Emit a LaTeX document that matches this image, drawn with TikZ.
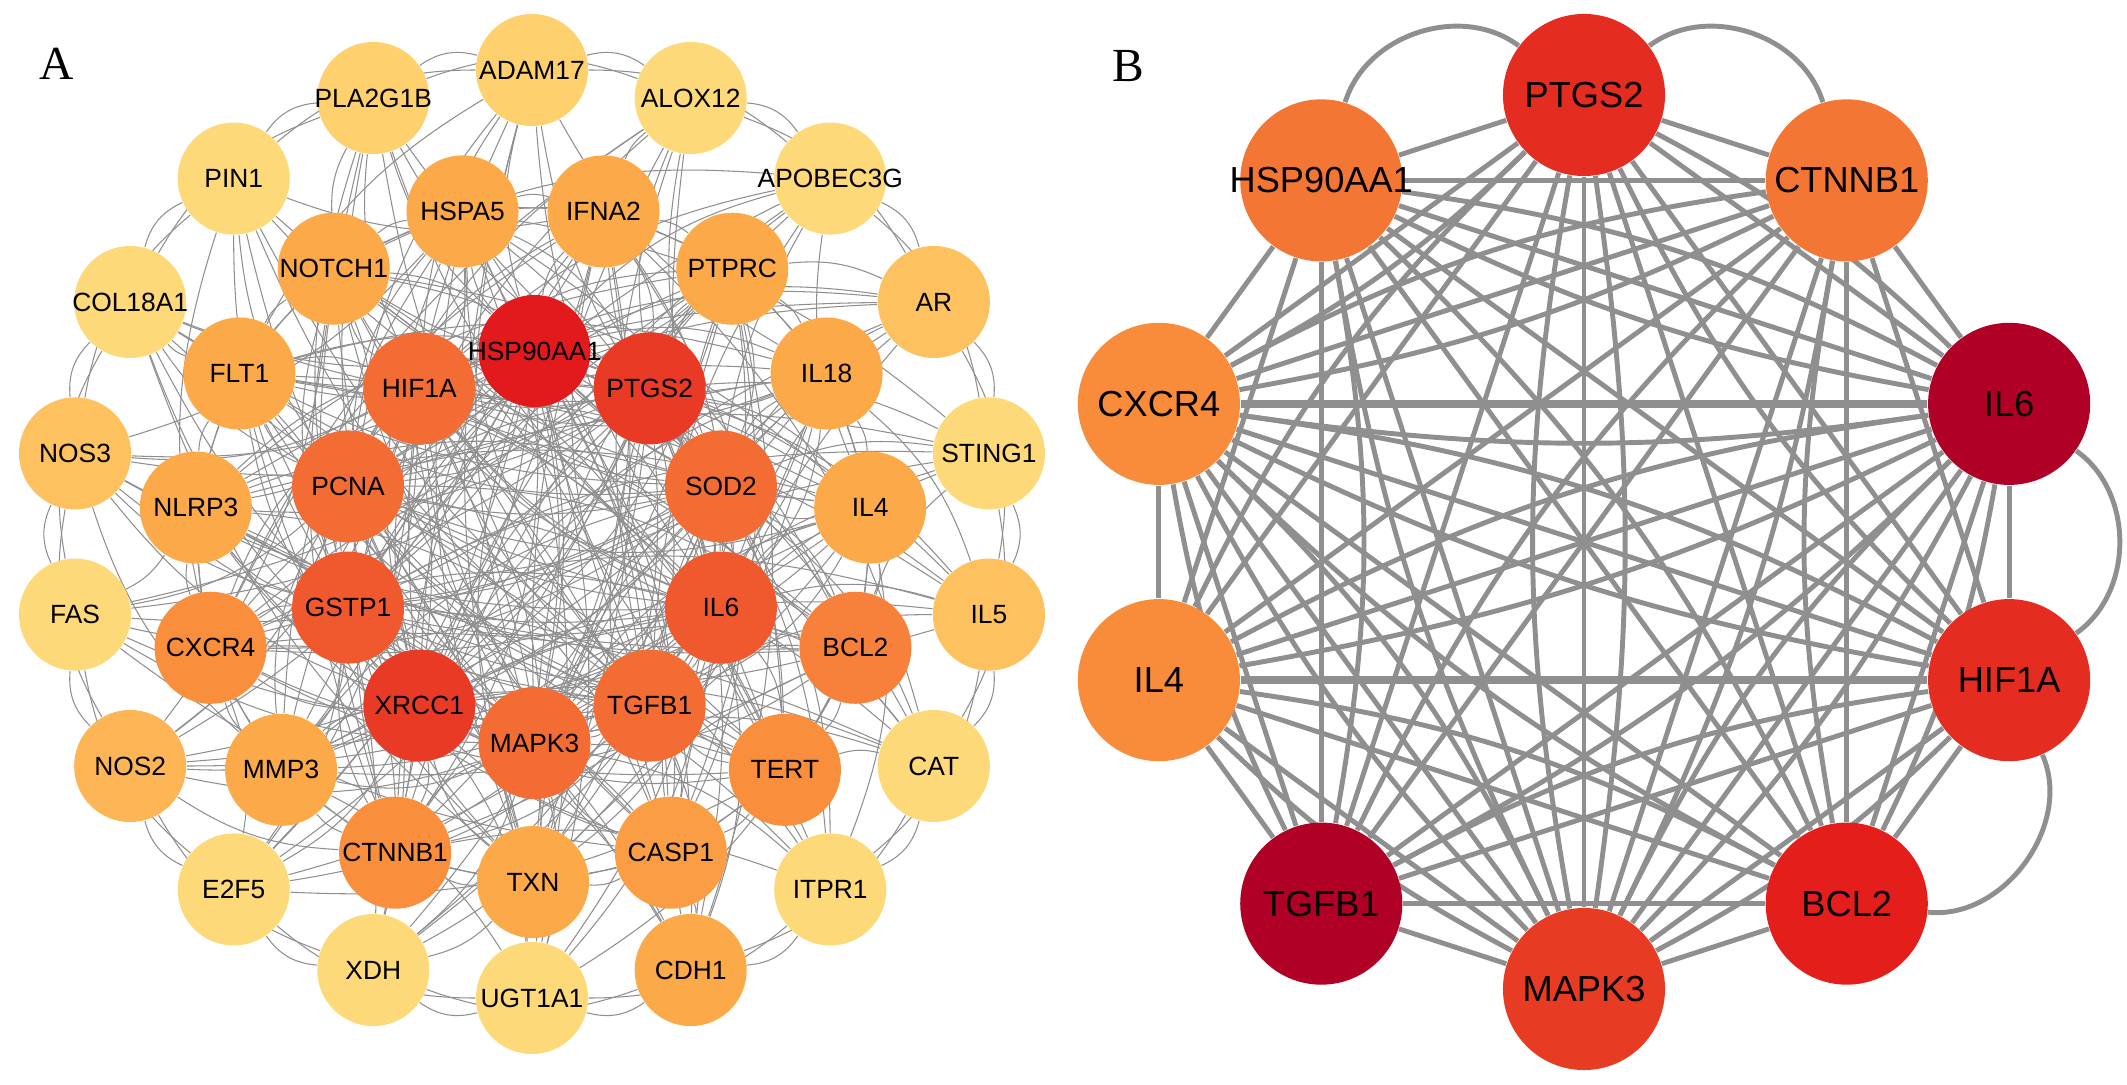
\documentclass[tikz,border=0pt]{standalone}
\usepackage{fontspec}
\setmainfont{Liberation Serif}
\setsansfont{Liberation Sans}
\usetikzlibrary{backgrounds}
\definecolor{edgegray}{HTML}{8F8F8F}
\definecolor{lvA}{HTML}{E31A1C}
\definecolor{lvB}{HTML}{E93A26}
\definecolor{lvC}{HTML}{F0592D}
\definecolor{lvD}{HTML}{F36C33}
\definecolor{lvE}{HTML}{F7803A}
\definecolor{lvF}{HTML}{F98E3D}
\definecolor{lvG}{HTML}{FA9D44}
\definecolor{lvH}{HTML}{FCA94A}
\definecolor{lvI}{HTML}{FDB555}
\definecolor{lvJ}{HTML}{FDC25F}
\definecolor{lvK}{HTML}{FED06E}
\definecolor{lvL}{HTML}{FED979}
\definecolor{crimB}{HTML}{B10026}
\definecolor{redB}{HTML}{E42C20}
\definecolor{redC}{HTML}{E31E1B}
\definecolor{redD}{HTML}{E83B24}
\definecolor{orgB}{HTML}{F47635}
\definecolor{orgC}{HTML}{F88C3B}
\begin{document}
\begin{tikzpicture}[x=0.01cm,y=0.01cm,
  geneA/.style={circle,draw=none,minimum size=1.12cm,inner sep=0pt,label={[font=\sffamily\fontsize{7.5}{9}\selectfont,inner sep=0pt]center:#1}},
  geneB/.style={circle,draw=none,minimum size=1.62cm,inner sep=0pt,label={[font=\sffamily\fontsize{10.3}{12}\selectfont,inner sep=0pt]center:#1}},
  edgeA/.style={draw=edgegray,line width=0.3pt},
  edgeB/.style={draw=edgegray,line width=1.4pt},
  panel/.style={font=\fontsize{13.5}{16}\selectfont}]
\useasboundingbox (0,0) rectangle (2127,1084);
\node[panel] (labA) at (57,1020) {A};
\node[panel] (labB) at (1128,1018) {B};
% network A
\foreach \name/\ang/\col [count=\i] in {HSP90AA1/90/lvA,PTGS2/54/lvB,SOD2/18/lvD,IL6/-18/lvC,TGFB1/-54/lvD,MAPK3/-90/lvD,XRCC1/-126/lvB,GSTP1/-162/lvC,PCNA/162/lvD,HIF1A/126/lvD}
  \node[geneA=\name,fill=\col] (i\i) at ([shift={(\ang:196)}]534.5,537) {};
\foreach \name/\ang/\col [count=\i] in {IFNA2/78/lvH,PTPRC/54/lvH,IL18/30/lvH,IL4/6/lvH,BCL2/-18/lvE,TERT/-42/lvF,CASP1/-66/lvG,TXN/-90/lvH,CTNNB1/-114/lvF,MMP3/-138/lvH,CXCR4/-162/lvF,NLRP3/174/lvH,FLT1/150/lvH,NOTCH1/126/lvH,HSPA5/102/lvH}
  \node[geneA=\name,fill=\col] (m\i) at ([shift={(\ang:339)}]533,541) {};
\foreach \name/\ang/\col [count=\i] in {ADAM17/90/lvK,ALOX12/70/lvL,APOBEC3G/50/lvL,AR/30/lvJ,STING1/10/lvL,IL5/-10/lvJ,CAT/-30/lvL,ITPR1/-50/lvL,CDH1/-70/lvH,UGT1A1/-90/lvL,XDH/-110/lvL,E2F5/-130/lvL,NOS2/-150/lvI,FAS/-170/lvL,NOS3/170/lvJ,COL18A1/150/lvL,PIN1/130/lvL,PLA2G1B/110/lvK}
  \node[geneA=\name,fill=\col] (o\i) at ([shift={(\ang:464)}]532,550) {};
\begin{scope}[on background layer]
\foreach \i in {1,...,9}{
  \pgfmathtruncatemacro\s{\i+1}
  \foreach \j in {\s,...,10}
    \draw[edgeA] (i\i) to[bend left=12] (i\j);
}
\foreach \i in {1,...,10}
  \foreach \j in {1,...,15}{
    \pgfmathtruncatemacro\p{mod(\i+\j,2)}
    \ifnum\p=0 \draw[edgeA] (i\i) to[bend left=18] (m\j);
    \else \draw[edgeA] (i\i) to[bend right=18] (m\j); \fi
  }
\foreach \i in {1,...,10}
  \foreach \j in {1,...,18}{
    \pgfmathtruncatemacro\k{mod(\i+\j,3)}
    \ifnum\k>0 \draw[edgeA] (i\i) to[bend left=15] (o\j); \fi
  }
\foreach \i in {1,...,15}
  \foreach \k in {1,2,5,7}{
    \pgfmathtruncatemacro\j{mod(\i+\k-1,15)+1}
    \draw[edgeA] (m\i) to[bend left=15] (m\j);
  }
\foreach \i in {1,...,15}
  \foreach \j in {1,...,18}{
    \pgfmathtruncatemacro\k{mod(\i+2*\j,5)}
    \ifnum\k=0 \draw[edgeA] (m\i) to[bend left=15] (o\j); \fi
  }
\foreach \i in {1,...,18}{
  \pgfmathtruncatemacro\j{mod(\i,18)+1}
  \pgfmathtruncatemacro\k{mod(\i+1,18)+1}
  \draw[edgeA] (o\i) to[bend left=25] (o\j);
  \draw[edgeA] (o\i) to[bend left=20] (o\k);
}
\end{scope}
% network B
\foreach \name/\ang/\col [count=\i] in {PTGS2/90/redB,CTNNB1/54/orgB,IL6/18/crimB,HIF1A/-18/redB,BCL2/-54/redC,MAPK3/-90/redD,TGFB1/-126/crimB,IL4/-162/orgC,CXCR4/162/orgC,HSP90AA1/126/orgB}
  \node[geneB=\name,fill=\col] (b\i) at ([shift={(\ang:447)}]1584,542) {};
\begin{scope}[on background layer]
\foreach \i in {1,...,9}{
  \pgfmathtruncatemacro\s{\i+1}
  \foreach \j in {\s,...,10}{
    \draw[edgeB] (b\i) -- (b\j);
    \pgfmathtruncatemacro\d{\j-\i}
    \pgfmathtruncatemacro\p{mod(\i+\j,2)}
    \pgfmathtruncatemacro\q{mod(\i*\j,3)}
    \ifnum\d>1 \ifnum\d<9
      \ifnum\p=1 \draw[edgeB] (b\i) to[bend right=10] (b\j); \fi
      \ifnum\q=0 \draw[edgeB] (b\i) to[bend left=8] (b\j); \fi
    \fi\fi
  }
}
\draw[edgeB] (b10) to[bend left=55] (b1);
\draw[edgeB] (b1) to[bend left=55] (b2);
\draw[edgeB] (b3) to[bend left=55] (b4);
\draw[edgeB] (b4) to[bend left=60] (b5);
\draw[edgeB,line width=2.2pt] (b9) -- (b3);
\draw[edgeB,line width=2.2pt] (b8) -- (b4);
\end{scope}
\end{tikzpicture}
\end{document}
